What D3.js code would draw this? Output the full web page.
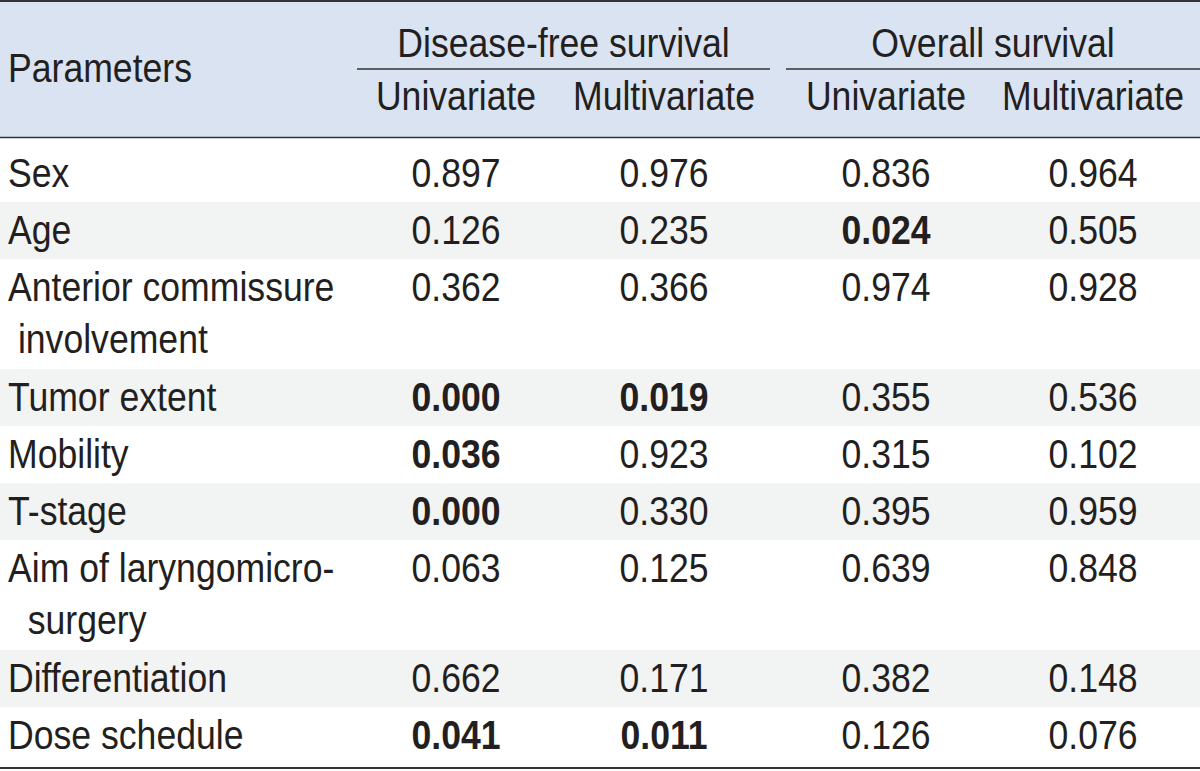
<!DOCTYPE html>
<html>
<head>
<meta charset="utf-8">
<script src="https://cdn.jsdelivr.net/npm/d3@7"></script>
<style>
  html, body { margin: 0; padding: 0; background: #ffffff; }
  svg { display: block; }
  text { white-space: pre; }
</style>
</head>
<body>
<svg id="chart" width="1200" height="771"></svg>
<script>
// ---- Data ----
const parameters = [
  ["Sex"],
  ["Age"],
  ["Anterior commissure", " involvement"],
  ["Tumor extent"],
  ["Mobility"],
  ["T-stage"],
  ["Aim of laryngomicro-", "  surgery"],
  ["Differentiation"],
  ["Dose schedule"]
];
const dfsUnivariate   = ["0.897", "0.126", "0.362", "0.000", "0.036", "0.000", "0.063", "0.662", "0.041"];
const dfsMultivariate = ["0.976", "0.235", "0.366", "0.019", "0.923", "0.330", "0.125", "0.171", "0.011"];
const osUnivariate    = ["0.836", "0.024", "0.974", "0.355", "0.315", "0.395", "0.639", "0.382", "0.126"];
const osMultivariate  = ["0.964", "0.505", "0.928", "0.536", "0.102", "0.959", "0.848", "0.148", "0.076"];
const groupLabels = ["Disease-free survival", "Overall survival"];
const subLabels = ["Univariate", "Multivariate", "Univariate", "Multivariate"];
const firstHeader = "Parameters";
const significance = 0.05;

// ---- Layout ----
const W = 1200;
const svg = d3.select("#chart");
const FONT = "'Liberation Sans', Arial, Helvetica, sans-serif";
const INK = "#231f20";
const FS = 40;
const SX = 0.89;

const colKeys = ["dfsU", "dfsM", "osU", "osM"];
const colData = [dfsUnivariate, dfsMultivariate, osUnivariate, osMultivariate];
const xCol = d3.scaleOrdinal().domain(colKeys).range([456, 664, 886, 1093]);
const groupSpan = [[357, 770], [786, 1200]];

const headerTop = 0, headerBottom = 138;
const lineStep = 53, singleH = 57, topPad = 7, bottomPad = 5;

const rows = [];
let y = headerBottom + topPad;
parameters.forEach((p, i) => {
  const h = singleH + (p.length - 1) * lineStep;
  rows.push({ i, top: y, h, lines: p });
  y += h;
});
const tableBottom = y + bottomPad;

function txt(g, s, x, yy, anchor, weight) {
  return g.append("text")
    .attr("transform", `translate(${x},${yy}) scale(${SX},1)`)
    .attr("text-anchor", anchor)
    .attr("font-family", FONT)
    .attr("font-size", FS)
    .attr("font-weight", weight || "normal")
    .attr("fill", INK)
    .attr("xml:space", "preserve")
    .text(s);
}

// header background
svg.append("rect").attr("x", 0).attr("y", headerTop).attr("width", W)
  .attr("height", headerBottom - headerTop).attr("fill", "#d9e3f2");

// row backgrounds
svg.selectAll("rect.row").data(rows).enter().append("rect")
  .attr("class", "row")
  .attr("x", 0)
  .attr("y", d => d.i === 0 ? headerBottom : d.top)
  .attr("width", W)
  .attr("height", d => d.i === 0 ? d.h + topPad : (d.i === rows.length - 1 ? d.h + bottomPad : d.h))
  .attr("fill", d => d.i % 2 === 1 ? "#f2f3f3" : "#ffffff");

// header text
const hg = svg.append("g");
txt(hg, firstHeader, 8, 82, "start");
groupLabels.forEach((g, k) => {
  const [a, b] = groupSpan[k];
  txt(hg, g, (a + b) / 2, 57, "middle");
  hg.append("line").attr("x1", a).attr("x2", b).attr("y1", 69).attr("y2", 69)
    .attr("stroke", "#333").attr("stroke-width", 1.6);
});
subLabels.forEach((s, k) => txt(hg, s, xCol(colKeys[k]), 110, "middle"));

// rules
svg.append("line").attr("x1", 0).attr("x2", W).attr("y1", 1).attr("y2", 1)
  .attr("stroke", "#333").attr("stroke-width", 2);
svg.append("line").attr("x1", 0).attr("x2", W).attr("y1", headerBottom - 0.5).attr("y2", headerBottom - 0.5)
  .attr("stroke", "#333").attr("stroke-width", 1.6);
svg.append("line").attr("x1", 0).attr("x2", W).attr("y1", tableBottom - 1).attr("y2", tableBottom - 1)
  .attr("stroke", "#333").attr("stroke-width", 2);

// body
const bg = svg.append("g");
rows.forEach(r => {
  const base = r.top + 41.5;
  r.lines.forEach((ln, j) => txt(bg, ln, 8, base + j * 52, "start"));
  colKeys.forEach((k, c) => {
    const v = colData[c][r.i];
    txt(bg, v, xCol(k), base, "middle", (+v < significance) ? "bold" : "normal");
  });
});
</script>
</body>
</html>
